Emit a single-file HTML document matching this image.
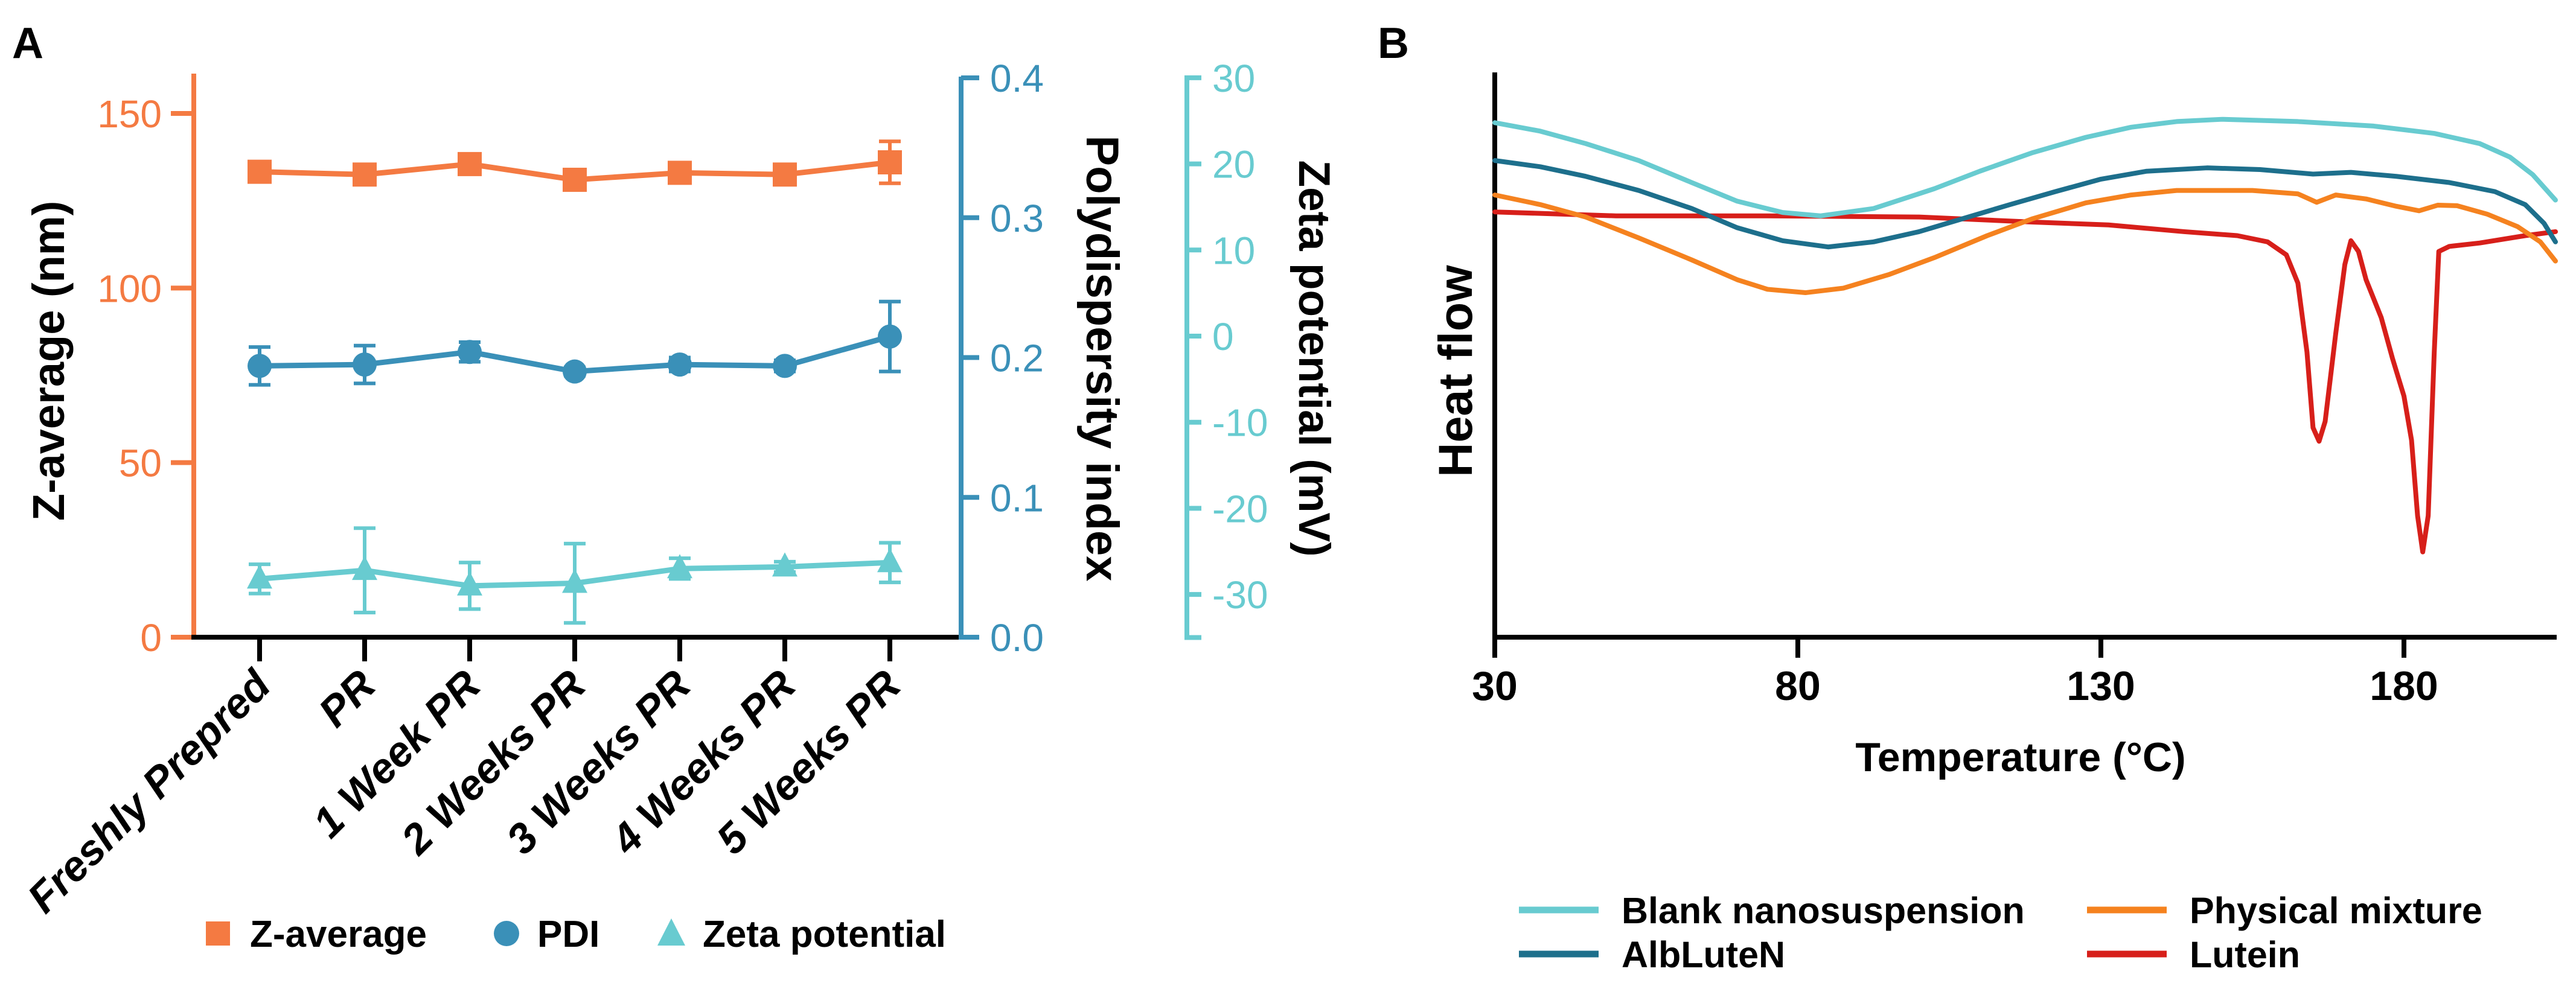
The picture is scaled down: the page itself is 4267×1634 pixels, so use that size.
<!DOCTYPE html>
<html><head><meta charset="utf-8"><style>
html,body{margin:0;padding:0;background:#fff;}
svg{display:block;font-family:"Liberation Sans",Arial,sans-serif;}
</style></head><body>
<svg id="fig" width="4267" height="1634" viewBox="0 0 4267 1634" xmlns="http://www.w3.org/2000/svg">
<text x="20" y="96" font-size="72" font-weight="bold">A</text>
<text x="2282" y="96" font-size="72" font-weight="bold">B</text>
<g id="panelA"></g>
<g id="panelB"></g>
</svg>
<script>
// ===== Panel A data =====
const categories = ["Freshly Prepred","PR","1 Week PR","2 Weeks PR","3 Weeks PR","4 Weeks PR","5 Weeks PR"];
const zAvg = [133.3, 132.5, 135.5, 131, 133, 132.5, 136];
const zAvgErr = [1.5, 2, 2, 1.5, 1.5, 2.5, 6];
const pdi = [0.194, 0.195, 0.204, 0.190, 0.195, 0.194, 0.215];
const pdiErr = [0.0135, 0.0135, 0.007, 0.003, 0.005, 0.004, 0.025];
const zeta = [-28.2, -27.2, -29.0, -28.7, -27.0, -26.8, -26.3];
const zetaErr = [1.7, 4.9, 2.7, 4.6, 1.2, 0.6, 2.3];
const zTicks = [0, 50, 100, 150];
const pdiTicks = [0.0, 0.1, 0.2, 0.3, 0.4];
const zetaTicks = [30, 20, 10, 0, -10, -20, -30];
// ===== Panel B data =====
const blankT = [30,37.5,45,53.75,62.5,70,77.5,83.75,92.5,102.5,110,118.75,127.5,135,142.5,150,162.5,175,185,192.5,197.5,201.25,205];
const blankV = [91.1,89.6,87.4,84.4,80.5,77.2,75.2,74.6,75.9,79.4,82.5,85.8,88.5,90.3,91.3,91.7,91.3,90.5,89.2,87.4,85.0,81.9,77.4];
const albT = [30,37.5,45,53.75,62.5,70,77.5,85,92.5,100,107.5,115,122.5,130,137.5,147.5,156.25,165,171.25,178.75,187.5,195,200,203.1,205];
const albV = [84.4,83.3,81.6,79.1,75.9,72.5,70.2,69.1,70.0,71.8,74.2,76.6,78.9,81.1,82.5,83.1,82.8,82.0,82.3,81.6,80.5,78.9,76.6,73.3,70.0];
const physT = [30,37.5,45,53.75,62.5,70,75,81.25,87.5,95,102.5,111.25,118.75,127.5,135,142.5,155,162.5,165.6,168.75,173.75,178.75,182.5,185.6,188.75,193.75,198.75,202.5,205];
const physV = [78.3,76.6,74.4,70.7,66.8,63.3,61.6,61.0,61.8,64.2,67.2,71.1,74.1,76.9,78.3,79.1,79.1,78.5,77.0,78.3,77.6,76.3,75.5,76.5,76.4,74.9,72.7,70.0,66.6];
const lutT = [30,50,75,100,118.75,131.25,143.75,152.5,157.5,160.6,162.5,164,165,166,167,168.75,170.25,171.25,172.5,173.75,176.25,178.1,180,181.25,182.25,183.1,184,185,185.75,187.5,192.5,200,205];
const lutV = [75.3,74.6,74.6,74.4,73.5,73.0,71.8,71.1,70.0,67.7,62.7,50.5,37.1,34.7,38.2,53.8,66.0,70.2,68.3,63.3,56.6,49.4,42.7,34.9,21.5,15.1,21.5,50.5,68.3,69.2,69.8,71.1,71.8];
const tempTicks = [30, 80, 130, 180];

const NS = "http://www.w3.org/2000/svg";
function mk(parent, tag, attrs, text){
  const e = document.createElementNS(NS, tag);
  for (const k in attrs) e.setAttribute(k, attrs[k]);
  if (text !== undefined) e.textContent = text;
  parent.appendChild(e);
  return e;
}
const OR = "#F47A42", BL = "#3A90B8", CY = "#68CBD0";

// ----- Panel A -----
const A = document.getElementById("panelA");
const x0 = 430, xStep = 174;
const xA = i => x0 + i * xStep;
const yZ = v => 1056 - v * (868 / 150);
const yP = v => 1056 - v * (927 / 0.4);
const yZe = v => 557 - v * 14.27;

let el = mk(A, "line", {x1:321,y1:122,x2:321,y2:1060,stroke:OR,"stroke-width":8});


zTicks.forEach(t => {
  const y = yZ(t);
  let l = mk(A, "line", {x1:283,y1:y,x2:321,y2:y,stroke:OR,"stroke-width":8});
  
  
  let tx = mk(A, "text", {x:268,y:y+23,"font-size":64,fill:OR,"text-anchor":"end"}, String(t));
  
  
});
el = mk(A, "line", {x1:317,y1:1056,x2:1596,y2:1056,stroke:"#000","stroke-width":8});


categories.forEach((c, i) => {
  const x = xA(i);
  let l = mk(A, "line", {x1:x,y1:1056,x2:x,y2:1096,stroke:"#000","stroke-width":8});
  
  
  let tx = mk(A, "text", {x:x+22,y:1140,"font-size":70,"font-weight":"bold","font-style":"italic","text-anchor":"end",transform:`rotate(-45 ${x+22} 1140)`}, c);
  
  
});
el = mk(A, "line", {x1:1592,y1:127,x2:1592,y2:1060,stroke:BL,"stroke-width":8});


pdiTicks.forEach(t => {
  const y = yP(t);
  let l = mk(A, "line", {x1:1592,y1:y,x2:1622,y2:y,stroke:BL,"stroke-width":8});
  
  
  let tx = mk(A, "text", {x:1640,y:y+23,"font-size":64,fill:BL}, t.toFixed(1));
  
  
});
el = mk(A, "line", {x1:1966,y1:127,x2:1966,y2:1060,stroke:CY,"stroke-width":8});


[30,20,10,0,-10,-20,-30,-35].forEach(t => {
  const y = yZe(t);
  let l = mk(A, "line", {x1:1962,y1:y,x2:1990,y2:y,stroke:CY,"stroke-width":8});
  
  
});
zetaTicks.forEach(t => {
  const y = yZe(t);
  let tx = mk(A, "text", {x:2008,y:y+23,"font-size":64,fill:CY}, t<0 ? "-"+Math.abs(t) : String(t));
  
  
});
el = mk(A, "text", {x:0,y:0,"font-size":74,"font-weight":"bold","text-anchor":"middle",transform:"translate(106 598) rotate(-90)"}, "Z-average  (nm)");


el = mk(A, "text", {x:0,y:0,"font-size":76,"font-weight":"bold","text-anchor":"middle",transform:"translate(1800 594) rotate(90)"}, "Polydispersity index");


el = mk(A, "text", {x:0,y:0,"font-size":73,"font-weight":"bold","text-anchor":"middle",transform:"translate(2152 594) rotate(90)"}, "Zeta potential (mV)");



function series(vals, errs, yf, color, marker, name){
  const g = mk(A, "g", {});
  
  
  vals.forEach((v, i) => {
    const x = xA(i), y1 = yf(v + errs[i]), y2 = yf(v - errs[i]);
    let e = mk(g, "path", {d:`M${x} ${y1}V${y2}M${x-18} ${y1}H${x+18}M${x-18} ${y2}H${x+18}`,stroke:color,"stroke-width":6,fill:"none"});
    
    
  });
  const pts = vals.map((v, i) => xA(i) + "," + yf(v)).join(" ");
  let pl = mk(g, "polyline", {points:pts,stroke:color,"stroke-width":9,fill:"none","stroke-linejoin":"round"});
  
  
  vals.forEach((v, i) => {
    const x = xA(i), y = yf(v);
    let m;
    if (marker === "square") m = mk(g, "rect", {x:x-20,y:y-20,width:40,height:40,fill:color});
    else if (marker === "circle") m = mk(g, "ellipse", {cx:x,cy:y,rx:20,ry:20,fill:color});
    else m = mk(g, "path", {d:`M${x} ${y-24}L${x+21} ${y+16}L${x-21} ${y+16}Z`,fill:color});
    
    
  });
}
series(zeta, zetaErr, yZe, CY, "triangle", "zeta");
series(pdi, pdiErr, yP, BL, "circle", "pdi");
series(zAvg, zAvgErr, yZ, OR, "square", "z-average");

const legA = mk(A, "g", {});


el = mk(legA, "rect", {x:341,y:1527,width:40,height:40,fill:OR});


el = mk(legA, "text", {x:414,y:1569,"font-size":62,"font-weight":"bold"}, "Z-average");


el = mk(legA, "circle", {cx:839,cy:1547,r:21,fill:BL});


el = mk(legA, "text", {x:890,y:1569,"font-size":62,"font-weight":"bold"}, "PDI");


el = mk(legA, "path", {d:"M1112 1522L1135 1567L1089 1567Z",fill:CY});


el = mk(legA, "text", {x:1164,y:1569,"font-size":62,"font-weight":"bold"}, "Zeta potential");



// ----- Panel B -----
const B = document.getElementById("panelB");
const xT = t => 2476 + (t - 30) * 10.04;
const yH = v => 1056 - v * 9.36;
el = mk(B, "line", {x1:2476,y1:120,x2:2476,y2:1060,stroke:"#000","stroke-width":8});


el = mk(B, "line", {x1:2472,y1:1056,x2:4235,y2:1056,stroke:"#000","stroke-width":8});


tempTicks.forEach(t => {
  const x = xT(t);
  let l = mk(B, "line", {x1:x,y1:1056,x2:x,y2:1090,stroke:"#000","stroke-width":8});
  
  
  let tx = mk(B, "text", {x:x,y:1160,"font-size":68,"font-weight":"bold","text-anchor":"middle"}, String(t));
  
  
});
el = mk(B, "text", {x:3347,y:1278,"font-size":68,"font-weight":"bold","text-anchor":"middle"}, "Temperature (°C)");


el = mk(B, "text", {x:0,y:0,"font-size":79,"font-weight":"bold","text-anchor":"middle",transform:"translate(2438 615) rotate(-90)"}, "Heat flow");



function curve(ts, vs, color, name){
  const pts = ts.map((t, i) => xT(t) + "," + yH(vs[i])).join(" ");
  let p = mk(B, "polyline", {points:pts,stroke:color,"stroke-width":8,fill:"none","stroke-linejoin":"round","stroke-linecap":"round"});
  
  
}
curve(lutT, lutV, "#D71F1A", "lutein-curve");
curve(physT, physV, "#F5821F", "physical-mixture-curve");
curve(albT, albV, "#1D6F8C", "albluten-curve");
curve(blankT, blankV, "#68CBD0", "blank-nanosuspension-curve");

const legB = mk(B, "g", {});


[["Blank nanosuspension","#68CBD0",2516,1508],["AlbLuteN","#1D6F8C",2516,1581],["Physical mixture","#F5821F",3457,1508],["Lutein","#D71F1A",3457,1581]].forEach(r => {
  let l = mk(legB, "line", {x1:r[2],y1:r[3],x2:r[2]+132,y2:r[3],stroke:r[1],"stroke-width":11});
  
  
  let tx = mk(legB, "text", {x:r[2]+170,y:r[3]+22,"font-size":61,"font-weight":"bold"}, r[0]);
  
  
});
</script>
</body></html>
